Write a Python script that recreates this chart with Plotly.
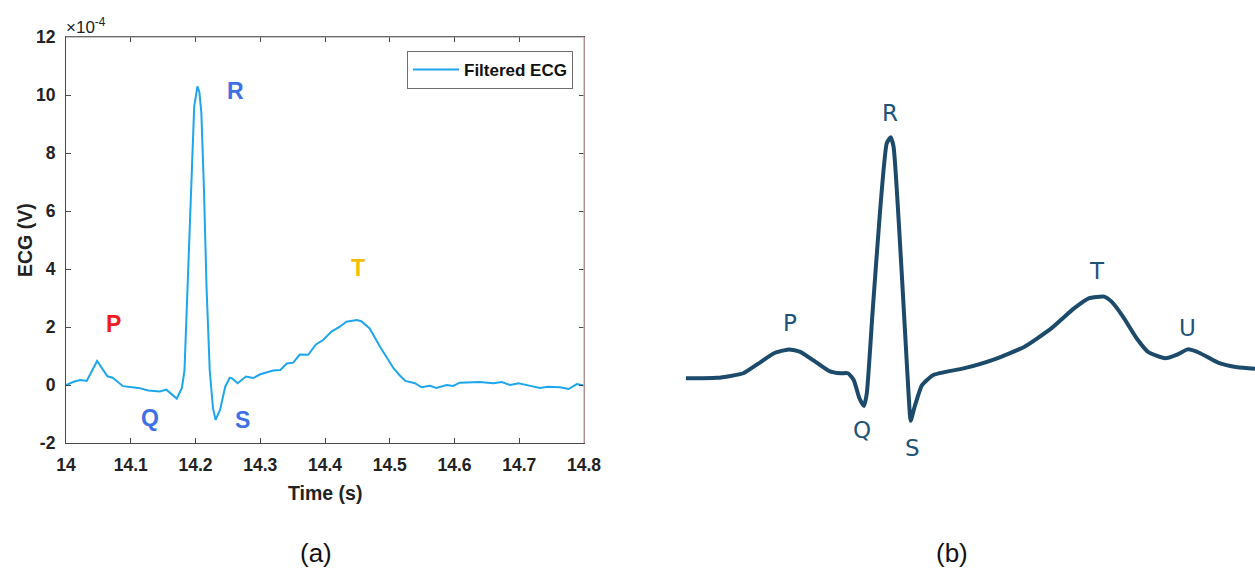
import plotly.graph_objects as go

# ---- Panel (a): filtered ECG recording, amplitude in units of 1e-4 V ----
time_s = [14.000, 14.013, 14.022, 14.032, 14.048, 14.064, 14.072, 14.088, 14.112, 14.127,
          14.145, 14.155, 14.171, 14.179, 14.183, 14.188, 14.193, 14.198, 14.203, 14.206,
          14.209, 14.213, 14.217, 14.222, 14.227, 14.231, 14.238, 14.246, 14.253, 14.257,
          14.265, 14.278, 14.289, 14.300, 14.320, 14.331, 14.341, 14.351, 14.361, 14.374,
          14.386, 14.397, 14.410, 14.423, 14.433, 14.449, 14.456, 14.469, 14.485, 14.506,
          14.516, 14.524, 14.539, 14.549, 14.562, 14.572, 14.588, 14.598, 14.608, 14.639,
          14.660, 14.673, 14.686, 14.699, 14.717, 14.732, 14.744, 14.763, 14.776, 14.789,
          14.800]
ecg_e4 = [0.00, 0.12, 0.17, 0.14, 0.83, 0.30, 0.25, -0.04, -0.10, -0.19,
          -0.22, -0.16, -0.47, -0.10, 0.50, 3.40, 6.90, 9.60, 10.30, 10.10,
          9.40, 6.80, 3.40, 0.50, -0.80, -1.20, -0.85, -0.05, 0.25, 0.22,
          0.06, 0.29, 0.24, 0.37, 0.50, 0.52, 0.74, 0.77, 1.05, 1.04,
          1.40, 1.55, 1.84, 2.01, 2.18, 2.24, 2.20, 1.95, 1.32, 0.57,
          0.32, 0.14, 0.06, -0.08, -0.03, -0.10, 0.00, -0.03, 0.08, 0.10,
          0.06, 0.10, 0.00, 0.06, -0.03, -0.10, -0.06, -0.08, -0.14, 0.03,
          -0.02]

# wave labels for panel (a): name, time, amplitude, colour
wave_labels_a = [
    ("P", 14.074, 2.12, "#f21c1c"),
    ("Q", 14.130, -1.15, "#4070e6"),
    ("R", 14.261, 10.15, "#4070e6"),
    ("S", 14.272, -1.22, "#4070e6"),
    ("T", 14.451, 4.02, "#f5bd00"),
]

x_ticks_a = [14.0, 14.1, 14.2, 14.3, 14.4, 14.5, 14.6, 14.7, 14.8]
x_tick_text_a = ["14", "14.1", "14.2", "14.3", "14.4", "14.5", "14.6", "14.7", "14.8"]
y_ticks_a = [-2, 0, 2, 4, 6, 8, 10, 12]
y_tick_text_a = ["-2", "0", "2", "4", "6", "8", "10", "12"]

# ---- Panel (b): schematic ECG cycle, arbitrary units ----
schem_x = [0.0, 5.5, 10.1, 12.8, 15.5, 18.1, 20.1, 22.8, 25.2, 27.2,
           28.5, 29.5, 30.5, 31.3, 31.8, 32.8, 34.1, 35.3, 36.0, 36.5,
           37.5, 38.5, 39.2, 39.5, 40.2, 41.5, 43.5, 48.8, 54.2, 59.5,
           64.2, 68.2, 70.8, 73.5, 74.8, 76.8, 79.2, 81.2, 84.2, 86.2,
           88.2, 90.2, 93.5, 96.9, 100.0]
schem_y = [0.00, 0.02, 0.21, 0.62, 1.04, 1.20, 1.10, 0.68, 0.30, 0.21,
           0.21, -0.07, -0.83, -1.15, -0.62, 2.70, 6.85, 9.75, 10.00, 9.61,
           6.15, 2.00, -0.90, -1.76, -1.18, -0.28, 0.14, 0.41, 0.79, 1.31,
           2.07, 2.90, 3.32, 3.39, 3.18, 2.56, 1.66, 1.10, 0.83, 0.97,
           1.20, 1.06, 0.65, 0.46, 0.40]

wave_labels_b = [
    ("P", 18.3, 2.28),
    ("Q", 31.0, -2.14),
    ("R", 35.9, 11.0),
    ("S", 39.8, -2.89),
    ("T", 72.2, 4.44),
    ("U", 88.2, 2.09),
]

W, H = 1255, 571
BOLD_FONT = "Liberation Sans"
AXIS_GREY = "#4a4a4a"
SCHEM_COLOR = "#1c4a6b"
SCHEM_TEXT = "#1d5378"

# plot-area placement in pixels
a_left, a_right, a_top, a_bottom = 66, 584, 37, 443
b_left, b_top, b_bottom = 685.8, 37, 480

def px_x(x):
    return x / W

def px_y(y):
    return 1 - y / H

fig = go.Figure()

fig.add_trace(go.Scatter(
    x=time_s, y=ecg_e4, mode="lines", name="Filtered ECG",
    line=dict(color="#1ea6ec", width=2),
    xaxis="x", yaxis="y",
))

fig.add_trace(go.Scatter(
    x=schem_x, y=schem_y, mode="lines", showlegend=False,
    line=dict(color=SCHEM_COLOR, width=4, shape="spline", smoothing=0.5),
    xaxis="x2", yaxis="y2",
))

annotations = []
for name, t, v, col in wave_labels_a:
    annotations.append(dict(
        x=t, y=v, xref="x", yref="y", text=name, showarrow=False,
        font=dict(family=BOLD_FONT, size=23, color=col, weight=700),
    ))
for name, xv, yv in wave_labels_b:
    annotations.append(dict(
        x=xv, y=yv, xref="x2", yref="y2", text=name, showarrow=False,
        font=dict(family="DejaVu Sans", size=23, color=SCHEM_TEXT),
    ))

def paper_text(x, y, text, size, weight=400, angle=0, color="#222222", xanchor="center"):
    return dict(
        x=px_x(x), y=px_y(y), xref="paper", yref="paper",
        xanchor=xanchor, yanchor="middle", text=text, showarrow=False,
        textangle=angle, font=dict(family=BOLD_FONT, size=size, color=color, weight=weight),
    )

# exponent marker above the y axis
annotations.append(paper_text(64, 26, "×10<sup>-4</sup>", 17, xanchor="left"))
# axis titles
annotations.append(paper_text(325, 493, "Time (s)", 19.5, weight=700))
annotations.append(paper_text(25, 240, "ECG (V)", 19.5, weight=700, angle=-90))
# panel captions
annotations.append(paper_text(316, 553, "(a)", 26, color="#111111"))
annotations.append(paper_text(952, 553, "(b)", 26, color="#111111"))

shapes = [
    # lighter top and right frame edges of the axes box
    dict(type="line", xref="paper", yref="paper",
         x0=px_x(a_left), x1=px_x(a_right), y0=px_y(a_top), y1=px_y(a_top),
         line=dict(color="#8c8c8c", width=1.2)),
    dict(type="line", xref="paper", yref="paper",
         x0=px_x(a_right), x1=px_x(a_right), y0=px_y(a_top), y1=px_y(a_bottom),
         line=dict(color="#e3b0b0", width=1.4)),
]

# y2 range so that amplitude 0 / 10 sit at pixel rows 378.3 / 137.3
b_scale = 24.1
y2_range = [(378.3 - b_bottom) / b_scale, (378.3 - b_top) / b_scale]

tick_font = dict(family=BOLD_FONT, size=17.5, color="#222222", weight=700)

fig.update_layout(
    width=W, height=H,
    margin=dict(l=0, r=0, t=0, b=0),
    paper_bgcolor="white", plot_bgcolor="rgba(0,0,0,0)",
    showlegend=True,
    legend=dict(
        x=px_x(573), y=px_y(51), xanchor="right", yanchor="top",
        bgcolor="white", bordercolor="#6e6e6e", borderwidth=1,
        font=dict(family=BOLD_FONT, size=17, color="#111111", weight=700),
        itemwidth=46, tracegroupgap=0,
    ),
    xaxis=dict(
        domain=[px_x(a_left), px_x(a_right)], range=[14.0, 14.8],
        tickvals=x_ticks_a, ticktext=x_tick_text_a,
        ticks="inside", ticklen=5, tickcolor=AXIS_GREY, mirror="ticks",
        showline=True, linecolor=AXIS_GREY, linewidth=1.2,
        showgrid=False, zeroline=False, anchor="y", automargin=False,
        ticklabelstandoff=6, tickfont=tick_font,
    ),
    yaxis=dict(
        domain=[px_y(a_bottom), px_y(a_top)], range=[-2, 12],
        tickvals=y_ticks_a, ticktext=y_tick_text_a,
        ticks="inside", ticklen=5, tickcolor=AXIS_GREY, mirror="ticks",
        showline=True, linecolor=AXIS_GREY, linewidth=1.2,
        showgrid=False, zeroline=False, anchor="x", automargin=False,
        ticklabelstandoff=6, tickfont=tick_font,
    ),
    xaxis2=dict(
        domain=[px_x(b_left), 1.0], range=[0, 100], visible=False, anchor="y2",
    ),
    yaxis2=dict(
        domain=[px_y(b_bottom), px_y(b_top)], range=y2_range, visible=False, anchor="x2",
    ),
    annotations=annotations,
    shapes=shapes,
)

# page body without default margin so the figure fills the window exactly
fig.write_html(
    "out.html",
    post_script="document.body.style.margin='0';document.body.style.overflow='hidden';",
)
